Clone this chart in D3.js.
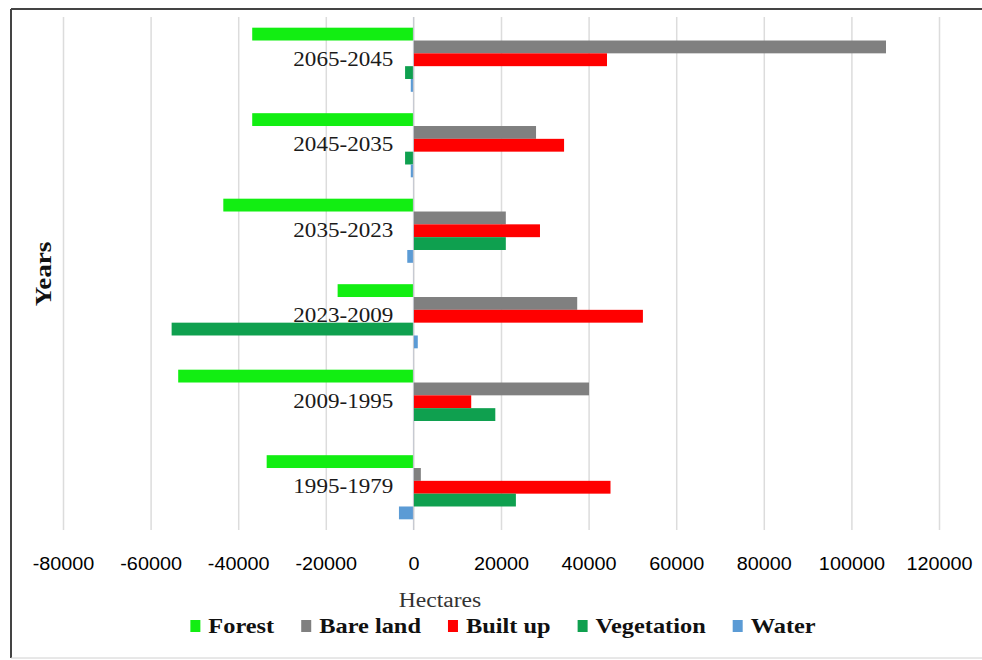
<!DOCTYPE html>
<html>
<head>
<meta charset="utf-8">
<script src="https://cdn.jsdelivr.net/npm/d3@7"></script>
<style>
  html, body { margin: 0; padding: 0; background: #fff; }
  svg { display: block; }
</style>
</head>
<body>
<svg id="chart" width="982" height="660"></svg>
<script>
// Land-cover change per period (hectares)
const periods = ["2065-2045", "2045-2035", "2035-2023", "2023-2009", "2009-1995", "1995-1979"];
const seriesNames = ["Forest", "Bare land", "Built up", "Vegetation", "Water"];
const forest     = [-36800, -36800, -43400, -17300, -53700, -33500];
const bareLand   = [107900,  28000,  21100,  37400,  40100,   1700];
const builtUp    = [ 44200,  34400,  28900,  52400,  13200,  45000];
const vegetation = [ -1900,  -1900,  21100, -55200,  18700,  23400];
const water      = [  -600,   -600,  -1400,   1000,      0,  -3300];
const xTicks = [-80000, -60000, -40000, -20000, 0, 20000, 40000, 60000, 80000, 100000, 120000];
const seriesColors = ["#12ee12", "#808080", "#ff0000", "#0fa04f", "#5b9bd5"];

const seriesValues = [forest, bareLand, builtUp, vegetation, water];
const rows = periods.map((p, i) => ({
  period: p,
  values: seriesNames.map((s, j) => ({ series: s, value: seriesValues[j][i] }))
}));

const svg = d3.select("#chart");

// stretch text horizontally to the wide face used in the chart
function stretch(sel, k) {
  sel.each(function () {
    const w = this.getComputedTextLength();
    d3.select(this).attr("textLength", w * k).attr("lengthAdjust", "spacingAndGlyphs");
  });
}

// frame
svg.append("line").attr("x1", 11).attr("x2", 982).attr("y1", 9).attr("y2", 9)
  .attr("stroke", "#444").attr("stroke-width", 2);
svg.append("line").attr("x1", 11).attr("x2", 11).attr("y1", 9).attr("y2", 658)
  .attr("stroke", "#444").attr("stroke-width", 2);
svg.append("line").attr("x1", 11).attr("x2", 982).attr("y1", 658).attr("y2", 658)
  .attr("stroke", "#d0d0d0").attr("stroke-width", 1);

const plot = { left: 63, right: 939, top: 17, bottom: 530 };

const x = d3.scaleLinear().domain([-80000, 120000]).range([plot.left, plot.right]);
const y = d3.scaleBand().domain(periods).range([plot.top, plot.bottom])
  .paddingInner(0.25).paddingOuter(0.125);
const ySub = d3.scaleBand().domain(seriesNames).range([0, y.bandwidth()]);
const color = d3.scaleOrdinal().domain(seriesNames).range(seriesColors);

// vertical gridlines
const grid = svg.append("g")
  .attr("transform", `translate(0,${plot.bottom})`)
  .call(d3.axisBottom(x).tickValues(xTicks).tickSize(-(plot.bottom - plot.top)).tickFormat(""));
grid.select(".domain").remove();
grid.selectAll(".tick line").attr("stroke", "#dcdcdc").attr("stroke-width", 1.5);

// bars
const groups = svg.append("g").selectAll("g").data(rows).join("g")
  .attr("transform", d => `translate(0,${y(d.period)})`);
groups.selectAll("rect").data(d => d.values).join("rect")
  .attr("x", d => x(Math.min(0, d.value)))
  .attr("width", d => Math.abs(x(d.value) - x(0)))
  .attr("y", d => ySub(d.series))
  .attr("height", ySub.bandwidth())
  .attr("fill", d => color(d.series));

// zero axis
svg.append("line")
  .attr("x1", x(0)).attr("x2", x(0)).attr("y1", plot.top).attr("y2", plot.bottom)
  .attr("stroke", "#c4c8d0").attr("stroke-width", 1);

// category labels beside the zero axis
const catLabels = svg.append("g").selectAll("text").data(periods).join("text")
  .attr("x", x(0) - 20)
  .attr("y", d => y(d) + y.bandwidth() / 2 - 1)
  .attr("text-anchor", "end")
  .attr("dominant-baseline", "central")
  .attr("font-family", "'Liberation Serif', 'Times New Roman', serif")
  .attr("font-size", 21)
  .attr("fill", "#1a1a1a")
  .text(d => d);
stretch(catLabels, 1.1);

// x tick labels (plain hyphen for negatives)
const xAxis = svg.append("g")
  .attr("transform", `translate(0,${plot.bottom})`)
  .call(d3.axisBottom(x).tickValues(xTicks).tickSize(0).tickFormat(d => String(d)));
xAxis.select(".domain").remove();
const tickText = xAxis.selectAll(".tick text")
  .attr("y", 34).attr("dy", "0.35em")
  .attr("font-family", "'Liberation Sans', Arial, sans-serif")
  .attr("font-size", 18)
  .attr("fill", "#000");
stretch(tickText, 1.1);

// axis titles
const xTitle = svg.append("text")
  .attr("x", 440).attr("y", 600)
  .attr("text-anchor", "middle").attr("dominant-baseline", "central")
  .attr("font-family", "'Liberation Serif', 'Times New Roman', serif")
  .attr("font-size", 20).attr("fill", "#333")
  .text("Hectares");
stretch(xTitle, 1.18);

const yTitle = svg.append("text")
  .attr("transform", "translate(43,274) rotate(-90)")
  .attr("text-anchor", "middle").attr("dominant-baseline", "central")
  .attr("font-family", "'Liberation Serif', 'Times New Roman', serif")
  .attr("font-weight", "bold")
  .attr("font-size", 24).attr("fill", "#111")
  .text("Years");
stretch(yTitle, 1.13);

// legend
const legend = svg.append("g");
const items = legend.selectAll("g").data(seriesNames).join("g");
items.append("rect")
  .attr("x", 0).attr("y", -6).attr("width", 10).attr("height", 12)
  .attr("fill", d => color(d));
const legText = items.append("text")
  .attr("x", 18).attr("y", 0).attr("dominant-baseline", "central")
  .attr("font-family", "'Liberation Serif', 'Times New Roman', serif")
  .attr("font-weight", "bold").attr("font-size", 21).attr("fill", "#111")
  .text(d => d);
stretch(legText, 1.16);
let cursor = 0;
items.each(function () {
  const t = d3.select(this).select("text").node();
  const w = 18 + (+t.getAttribute("textLength"));
  d3.select(this).attr("transform", `translate(${cursor},0)`);
  cursor += w + 27;
});
const legendWidth = cursor - 27;
legend.attr("transform", `translate(${503 - legendWidth / 2},626)`);
</script>
</body>
</html>
